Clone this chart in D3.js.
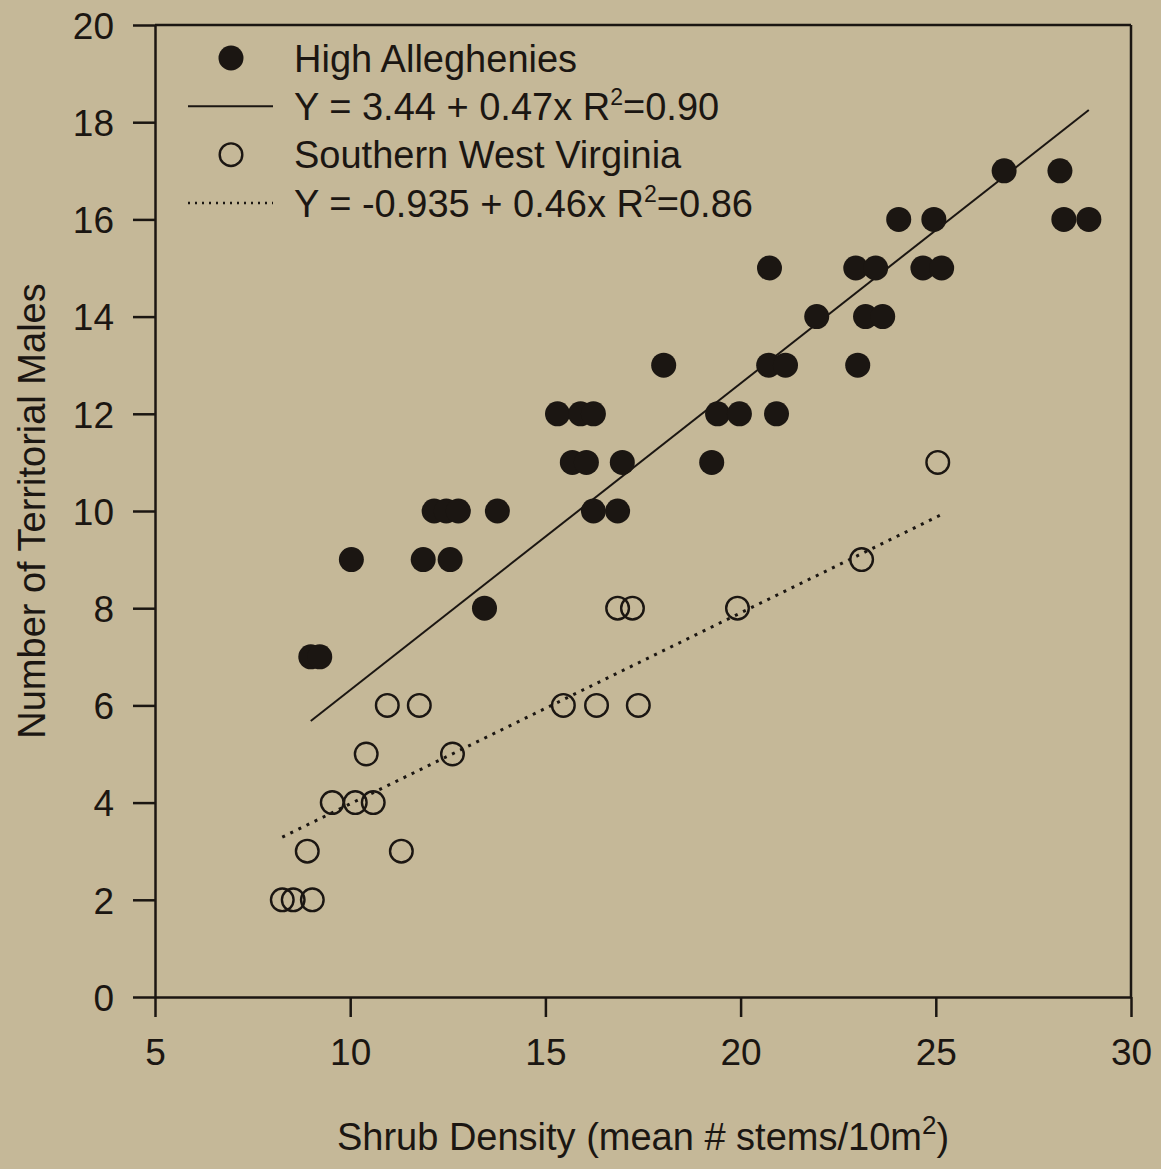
<!DOCTYPE html>
<html>
<head>
<meta charset="utf-8">
<script src="https://cdn.jsdelivr.net/npm/d3@7"></script>
<style>
  body { margin: 0; background: #c5b898; }
  svg { display: block; font-family: "Liberation Sans", Arial, sans-serif; }
</style>
</head>
<body>
<div id="scatter"></div>
<script>
// canvas size
var svgWidth = 1161;
var svgHeight = 1169;

var margin = { top: 25, right: 30, bottom: 172, left: 155 };
var width = svgWidth - margin.left - margin.right;
var height = svgHeight - margin.top - margin.bottom;

// High Alleghenies (filled)
var highX = [8.99, 9.22, 10.03, 11.87, 12.56, 12.15, 12.46, 12.77, 13.44, 13.77,
  15.31, 15.9, 16.23, 15.69, 16.05, 16.97, 16.23, 16.85, 18.03, 19.26,
  19.41, 19.97, 20.92, 20.72, 21.15, 20.74, 21.95, 23.0, 22.95, 23.46,
  23.2, 23.64, 24.05, 24.95, 24.67, 25.15, 26.75, 28.18, 28.28, 28.92];
var highY = [7, 7, 9, 9, 9, 10, 10, 10, 8, 10,
  12, 12, 12, 11, 11, 11, 10, 10, 13, 11,
  12, 12, 12, 13, 13, 15, 14, 13, 15, 15,
  14, 14, 16, 16, 15, 15, 17, 17, 16, 16];

// Southern West Virginia (open)
var southX = [8.26, 8.54, 9.03, 8.9, 11.31, 9.54, 10.13, 10.59, 10.41, 12.62,
  10.95, 11.77, 15.46, 16.31, 17.38, 16.85, 17.23, 19.92, 23.1, 25.05];
var southY = [2, 2, 2, 3, 3, 4, 4, 4, 5, 5,
  6, 6, 6, 6, 6, 8, 8, 8, 9, 11];

// fitted lines as drawn (end points)
var highFitX = [8.99, 28.92];
var highFitY = [5.68, 18.25];
var southFitX = [8.26, 25.13];
var southFitY = [3.29, 9.92];

var xTicks = [5, 10, 15, 20, 25, 30];
var yTicks = [0, 2, 4, 6, 8, 10, 12, 14, 16, 18, 20];

var legendItems = [
  { kind: "filled", label: "High Alleghenies" },
  { kind: "solid", label: "Y = 3.44 + 0.47x R", sup: "2", tail: "=0.90" },
  { kind: "open", label: "Southern West Virginia" },
  { kind: "dotted", label: "Y = -0.935 + 0.46x R", sup: "2", tail: "=0.86" }
];

var ink = "#1b1612";

var svg = d3.select("#scatter").append("svg")
  .attr("width", svgWidth)
  .attr("height", svgHeight);

var chartGroup = svg.append("g")
  .attr("transform", `translate(${margin.left}, ${margin.top})`);

var xScale = d3.scaleLinear().domain([5, 30]).range([0, width]);
var yScale = d3.scaleLinear().domain([0, 20]).range([height, 0]);

// axes
var bottomAxis = d3.axisBottom(xScale).tickValues(xTicks).tickSize(20).tickSizeOuter(0).tickPadding(22);
var leftAxis = d3.axisLeft(yScale).tickValues(yTicks).tickSize(22).tickSizeOuter(0).tickPadding(19);

var xAxisG = chartGroup.append("g")
  .attr("transform", `translate(0, ${height})`)
  .call(bottomAxis);
var yAxisG = chartGroup.append("g").call(leftAxis);

[xAxisG, yAxisG].forEach(function(g) {
  g.selectAll("path, line").attr("stroke", ink).attr("stroke-width", 2.5);
  g.selectAll("text").attr("fill", ink).style("font-size", "37px");
});
yAxisG.selectAll("text").attr("dy", "0.36em");

// frame top and right
chartGroup.append("line")
  .attr("x1", 0).attr("x2", width).attr("y1", 0).attr("y2", 0)
  .attr("stroke", ink).attr("stroke-width", 2.5);
chartGroup.append("line")
  .attr("x1", width).attr("x2", width).attr("y1", 0).attr("y2", height)
  .attr("stroke", ink).attr("stroke-width", 2.5);

// fit lines
var line = d3.line().x(d => xScale(d[0])).y(d => yScale(d[1]));
chartGroup.append("path")
  .attr("d", line(d3.zip(highFitX, highFitY)))
  .attr("fill", "none").attr("stroke", ink).attr("stroke-width", 2);
chartGroup.append("path")
  .attr("d", line(d3.zip(southFitX, southFitY)))
  .attr("fill", "none").attr("stroke", ink).attr("stroke-width", 3)
  .attr("stroke-dasharray", "3,6");

// points
chartGroup.selectAll(".high")
  .data(d3.zip(highX, highY))
  .enter().append("circle")
  .attr("class", "high")
  .attr("cx", d => xScale(d[0]))
  .attr("cy", d => yScale(d[1]))
  .attr("r", 12.5)
  .attr("fill", ink);

chartGroup.selectAll(".south")
  .data(d3.zip(southX, southY))
  .enter().append("circle")
  .attr("class", "south")
  .attr("cx", d => xScale(d[0]))
  .attr("cy", d => yScale(d[1]))
  .attr("r", 11.3)
  .attr("fill", "none")
  .attr("stroke", ink)
  .attr("stroke-width", 2.4);

// legend
var legend = svg.append("g");
var legendRow = d3.scaleLinear().domain([0, 3]).range([58, 203]);

legendItems.forEach(function(item, i) {
  var cy = legendRow(i);
  if (item.kind === "filled") {
    legend.append("circle").attr("cx", 231).attr("cy", cy).attr("r", 12.5).attr("fill", ink);
  } else if (item.kind === "open") {
    legend.append("circle").attr("cx", 231).attr("cy", cy).attr("r", 11.3)
      .attr("fill", "none").attr("stroke", ink).attr("stroke-width", 2.4);
  } else {
    legend.append("line").attr("x1", 188).attr("x2", 273).attr("y1", cy).attr("y2", cy)
      .attr("stroke", ink)
      .attr("stroke-width", item.kind === "solid" ? 2 : 2.5)
      .attr("stroke-dasharray", item.kind === "solid" ? null : "2,5");
  }
  var t = legend.append("text")
    .attr("x", 294).attr("y", cy).attr("dy", "0.36em")
    .attr("fill", ink).style("font-size", "38px")
    .text(item.label);
  if (item.sup) {
    t.append("tspan").attr("dy", -15).style("font-size", "23px").text(item.sup);
    t.append("tspan").attr("dy", 15).text(item.tail);
  }
});

// axis titles
chartGroup.append("text")
  .attr("transform", "rotate(-90)")
  .attr("x", -height / 2)
  .attr("y", -margin.left + 45)
  .attr("text-anchor", "middle")
  .attr("fill", ink)
  .style("font-size", "38px")
  .text("Number of Territorial Males");

var xTitle = chartGroup.append("text")
  .attr("x", width / 2)
  .attr("y", height + 153)
  .attr("text-anchor", "middle")
  .attr("fill", ink)
  .style("font-size", "38px")
  .text("Shrub Density (mean # stems/10m");
xTitle.append("tspan").attr("dy", -16).style("font-size", "26px").text("2");
xTitle.append("tspan").attr("dy", 16).text(")");
</script>
</body>
</html>
